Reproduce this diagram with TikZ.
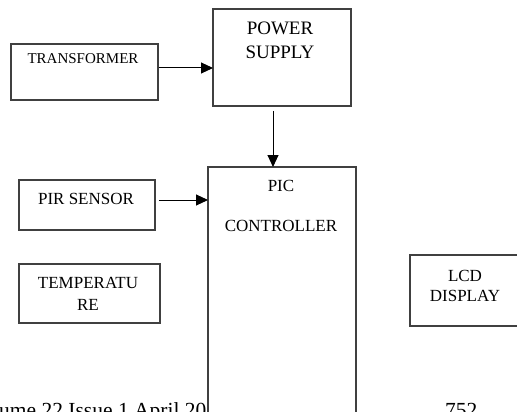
\documentclass[tikz,border=0pt]{standalone}
\usepackage{fontspec}
\setmainfont{Liberation Serif}
\usetikzlibrary{arrows.meta}
\tikzset{
  blk/.style={draw=black!75, line width=1.8pt, fill=white, inner sep=0pt, anchor=north west},
  lbl/.style={inner sep=0pt, align=center, font=\fontsize{17}{21}\selectfont},
  arr/.style={draw=black, line width=1pt, -{Triangle[length=12pt,width=11pt]}, shorten >=-1pt},
  foot/.style={inner sep=0pt, anchor=base west, font=\fontsize{21.5}{24}\selectfont}
}
\begin{document}
\begin{tikzpicture}[x=1pt,y=-1pt]
\useasboundingbox (0,0) rectangle (517,412);
\clip (0,0) rectangle (517,412);
% footer text (page footer showing through)
\node[foot] (foot1) at (-1,417) {ume 22 Issue 1 April 20};
\node[foot] (foot2) at (445,417) {752};
% boxes
\node[blk, minimum width=147pt, minimum height=56pt] (trans) at (10,43) {};
\node[blk, minimum width=138pt, minimum height=97pt] (power) at (212,8) {};
\node[blk, minimum width=148pt, minimum height=260pt] (pic) at (207,166) {};
\node[blk, minimum width=136pt, minimum height=50pt] (pir) at (18,179) {};
\node[blk, minimum width=141pt, minimum height=59pt] (temp) at (18,263) {};
\node[blk, minimum width=108pt, minimum height=71pt] (lcd) at (409,254) {};
% labels
\node[lbl, font=\fontsize{15}{18}\selectfont] (transT) at (83,59) {TRANSFORMER};
\node[lbl, font=\fontsize{19}{24}\selectfont] (powerT) at (280,40) {POWER\\SUPPLY};
\node[lbl] (picT1) at (281,186) {PIC};
\node[lbl] (picT2) at (281,226) {CONTROLLER};
\node[lbl] (pirT) at (86,199) {PIR SENSOR};
\node[lbl, font=\fontsize{17}{22.5}\selectfont] (tempT) at (88,294) {TEMPERATU\\RE};
\node[lbl, font=\fontsize{17}{20.5}\selectfont] (lcdT) at (465,286) {LCD\\DISPLAY};
% connectors
\coordinate (c1) at (155,68);
\coordinate (c2) at (273,109);
\coordinate (c3) at (157,200);
\draw[arr] (trans.east |- c1) -- (power.west |- c1);
\draw[arr] (power.south -| c2) ++(0,4) -- (pic.north -| c2);
\draw[arr] (pir.east |- c3) ++(3,0) -- (pic.west |- c3);
\end{tikzpicture}
\end{document}
